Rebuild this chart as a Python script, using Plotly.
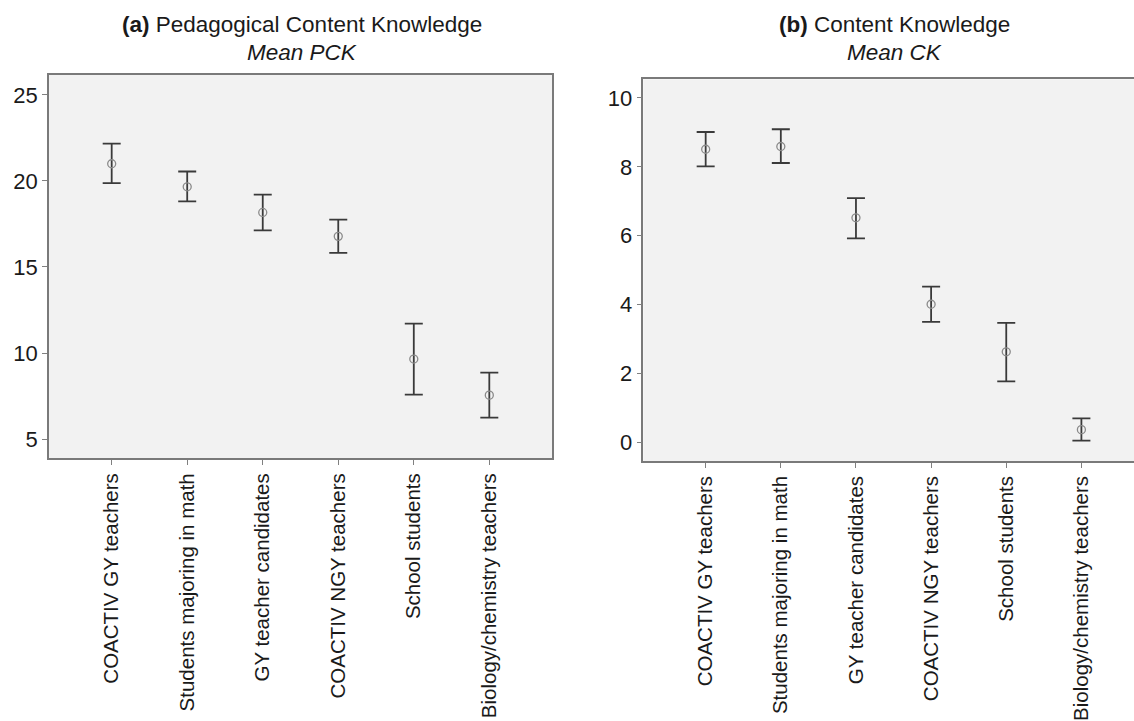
import plotly.graph_objects as go

categories = ["COACTIV GY teachers", "Students majoring in math", "GY teacher candidates",
              "COACTIV NGY teachers", "School students", "Biology/chemistry teachers"]

pck_mean = [21.0, 19.66, 18.17, 16.78, 9.65, 7.55]
pck_upper = [22.17, 20.55, 19.21, 17.75, 11.71, 8.86]
pck_lower = [19.87, 18.81, 17.13, 15.82, 7.58, 6.25]

ck_mean = [8.51, 8.59, 6.52, 4.01, 2.63, 0.37]
ck_upper = [9.01, 9.09, 7.09, 4.52, 3.47, 0.70]
ck_lower = [8.01, 8.11, 5.92, 3.50, 1.77, 0.05]

pck_ticks = [5, 10, 15, 20, 25]
ck_ticks = [0, 2, 4, 6, 8, 10]

W, H = 1134, 721
FONT = "Liberation Sans, Arial, sans-serif"

def px_x(p):
    return p / W

def px_y(p):
    return 1 - p / H

fig = go.Figure()

def add_panel(mean, upper, lower, xa, ya):
    fig.add_trace(go.Scatter(
        x=list(range(len(categories))), y=mean,
        mode="markers",
        marker=dict(symbol="circle-open", size=8, color="#8a8a8a", line=dict(width=1.3)),
        error_y=dict(type="data", symmetric=False,
                     array=[u - m for u, m in zip(upper, mean)],
                     arrayminus=[m - l for m, l in zip(mean, lower)],
                     color="#3a3a3a", thickness=1.8, width=9),
        xaxis=xa, yaxis=ya, showlegend=False, hoverinfo="skip"))

add_panel(pck_mean, pck_upper, pck_lower, "x", "y")
add_panel(ck_mean, ck_upper, ck_lower, "x2", "y2")

axis_common = dict(showgrid=False, zeroline=False, showline=True, linecolor="#7a7a7a", linewidth=1.5,
                   ticks="outside", ticklen=5, tickcolor="#808080", tickwidth=1.2,
                   tickfont=dict(family=FONT, size=22, color="#1a1a1a"))

xcat = dict(axis_common, tickmode="array", tickvals=list(range(6)), ticktext=categories,
            tickangle=-90,
            tickfont=dict(family=FONT, size=20.5, color="#1a1a1a"))

fig.update_layout(
    width=W, height=H,
    margin=dict(l=0, r=0, t=0, b=0),
    paper_bgcolor="white", plot_bgcolor="#f2f2f2",
    xaxis=dict(xcat, domain=[px_x(49), px_x(552)], range=[-0.83, 5.83], mirror=True, anchor="y"),
    yaxis=dict(axis_common, domain=[px_y(458.3), px_y(75)], range=[3.88, 26.16],
               tickvals=pck_ticks, mirror=True, anchor="x"),
    xaxis2=dict(xcat, domain=[px_x(643.3), 1.0], range=[-0.83, 5.70], mirror=True, anchor="y2"),
    yaxis2=dict(axis_common, domain=[px_y(461), px_y(79.3)], range=[-0.54, 10.54],
                tickvals=ck_ticks, mirror=False, anchor="x2"),
)

def title(xp, text1, text2):
    fig.add_annotation(x=px_x(xp), y=px_y(25), xref="paper", yref="paper", text=text1,
                       showarrow=False, xanchor="center", yanchor="middle",
                       font=dict(family=FONT, size=22.5, color="#1a1a1a"))
    fig.add_annotation(x=px_x(xp), y=px_y(53), xref="paper", yref="paper", text=text2,
                       showarrow=False, xanchor="center", yanchor="middle",
                       font=dict(family=FONT, size=22.5, color="#1a1a1a"))

title(302, "<b>(a)</b> Pedagogical Content Knowledge", "<i>Mean PCK</i>")
title(894, "<b>(b)</b> Content Knowledge", "<i>Mean CK</i>")

fig.write_html("out.html", config={"displayModeBar": False},
               post_script="document.body.style.margin='0';document.body.style.overflow='hidden';")
